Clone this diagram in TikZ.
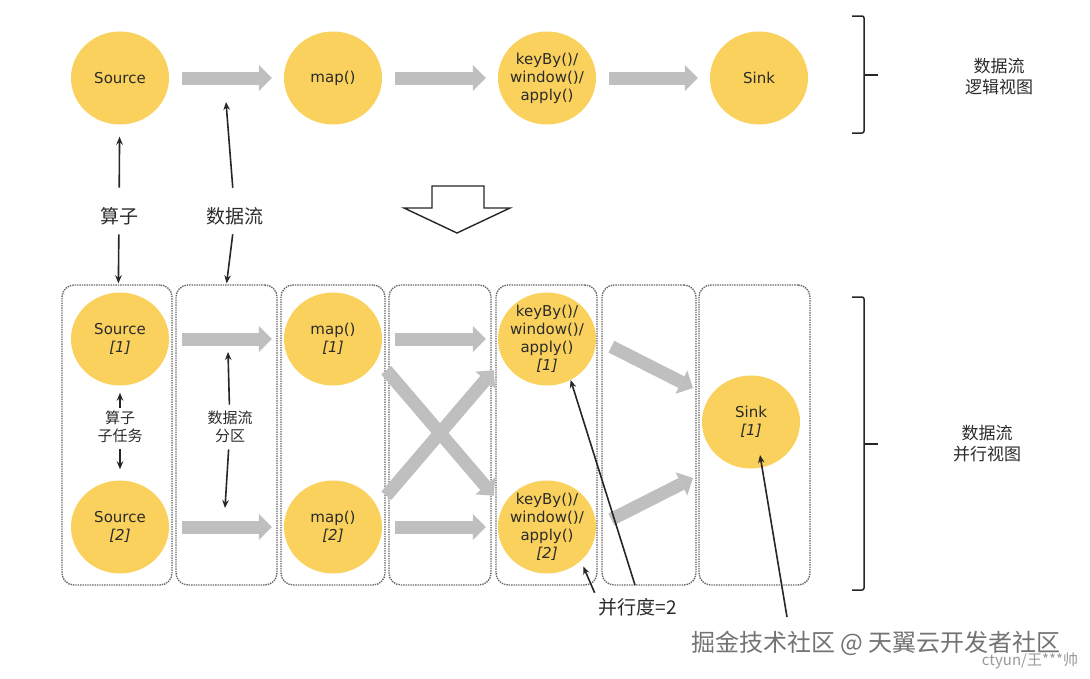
\documentclass[tikz,border=0pt]{standalone}
\usepackage{fontspec}
\setmainfont{DejaVu Sans}
\newfontfamily\cjk{Noto Sans CJK SC}
\usetikzlibrary{shapes.geometric,arrows.meta,calc}
\definecolor{ylw}{HTML}{FAD15C}
\definecolor{agray}{HTML}{BFBFBF}
\definecolor{txt}{HTML}{2B2B2B}
\definecolor{boxc}{HTML}{666666}
\begin{document}
\begin{tikzpicture}[x=1pt,y=-1pt,
  op/.style={ellipse, fill=ylw, minimum width=98pt, minimum height=93pt, inner sep=0pt},
  optext/.style={text=txt, font=\fontsize{15}{18}\selectfont, align=center, inner sep=0pt},
  fatc/.style={draw=agray, line width=13pt, -{Triangle[length=13pt,width=26pt,line width=0pt]}},
  fat/.style={fatc, shorten <=13pt, shorten >=12pt},
  thinarr/.style={draw=black!85, line width=1.6pt, -{Stealth[length=8pt,width=6.5pt]}},
  part/.style={draw=boxc, densely dotted, line width=1.4pt, rounded corners=12pt, minimum height=300pt, inner sep=0pt},
  cn/.style={text=txt, font=\cjk\fontsize{19}{22}\selectfont, align=center},
  cns/.style={text=txt, font=\cjk\fontsize{15}{18}\selectfont, align=center},
  side/.style={text=txt, font=\cjk\fontsize{17}{21}\selectfont, align=center},
  brace/.style={draw=black!85, line width=1.5pt, rounded corners=2pt},
]
\useasboundingbox (0,0) rectangle (1090,678);

% ---------- logical view ----------
\node[op] (src) at (120,78) {};
\node[op] (map) at (333,78) {};
\node[op] (key) at (547,78) {};
\node[op] (snk) at (759,78) {};
\node[optext] at (src) {Source};
\node[optext] at (map) {map()};
\node[optext] at (key) {keyBy()/\\window()/\\apply()};
\node[optext] at (snk) {Sink};
\draw[fat] (src) -- (map);
\draw[fat] (map) -- (key);
\draw[fat] (key) -- (snk);

\draw[brace] (852,16) -- (864,16) -- (864,133) -- (852,133);
\draw[draw=black!85, line width=1.5pt] (864,75) -- (878,75);
\node[side] (lv) at (999,77) {数据流\\逻辑视图};

% annotations top
\node[cn] (lop) at (119,216) {算子};
\node[cn] (lflow) at (235,216) {数据流};
\coordinate (ftip) at (226,102);

% big hollow arrow
\draw[line width=1.4pt, draw=black!85, fill=white] (432,186) -- (484,186) -- (484,208) -- (510,208) -- (457,233) -- (404,208) -- (432,208) -- cycle;

% ---------- parallel view ----------
\node[part, minimum width=110pt] (b1) at (117,435) {};
\node[part, minimum width=101pt] (b2) at (226.5,435) {};
\node[part, minimum width=104pt] (b3) at (333,435) {};
\node[part, minimum width=102pt] (b4) at (440,435) {};
\node[part, minimum width=101pt] (b5) at (546.5,435) {};
\node[part, minimum width=94pt] (b6) at (649,435) {};
\node[part, minimum width=111pt] (b7) at (754.5,435) {};

\node[op] (s1) at (120,339) {};
\node[op] (s2) at (120,527) {};
\node[op] (m1) at (333,339) {};
\node[op] (m2) at (333,527) {};
\node[op] (k1) at (547,339) {};
\node[op] (k2) at (547,527) {};
\node[op] (sk) at (751,422) {};
\node[optext] at (s1) {Source\\\textit{[1]}};
\node[optext] at (s2) {Source\\\textit{[2]}};
\node[optext] at (m1) {map()\\\textit{[1]}};
\node[optext] at (m2) {map()\\\textit{[2]}};
\node[optext] at (k1) {keyBy()/\\window()/\\apply()\\\textit{[1]}};
\node[optext] at (k2) {keyBy()/\\window()/\\apply()\\\textit{[2]}};
\node[optext] at (sk) {Sink\\\textit{[1]}};

\draw[fat] (s1) -- (m1);
\draw[fat] (s2) -- (m2);
\draw[fat] (m1) -- (k1);
\draw[fat] (m2) -- (k2);
\draw[fatc, shorten <=14pt, shorten >=14pt] (m1.-25) -- (k2.155);
\draw[fatc, shorten <=14pt, shorten >=14pt] (m2.25) -- (k1.-155);
\coordinate (sin1) at (693,388);
\coordinate (sin2) at (693,478);
\draw[fatc, shorten <=17pt] (k1.east) -- (sin1);
\draw[fatc, shorten <=17pt] (k2.east) -- (sin2);

\draw[brace] (852,297) -- (864,297) -- (864,590) -- (852,590);
\draw[draw=black!85, line width=1.5pt] (864,444) -- (878,444);
\node[side] (pv) at (987,444) {数据流\\并行视图};

% annotation arrows top
\draw[thinarr, shorten <=16pt, shorten >=12pt] (lop) -- (src);
\draw[thinarr, shorten <=6pt, shorten >=1pt] (lop) -- (b1);
\draw[thinarr, shorten <=16pt] (lflow) -- (ftip);
\draw[thinarr, shorten <=6pt, shorten >=1pt] (lflow) -- (b2.north);

% annotations bottom
\node[cns] (lsub) at (120,427) {算子\\子任务};
\node[cns] (lpart) at (230,427) {数据流\\分区};
\coordinate (pt1) at (228,352);
\coordinate (pt2) at (225,508);
\draw[thinarr, shorten >=7pt] (lsub) -- (s1);
\draw[thinarr, shorten <=3pt, shorten >=11pt] (lsub) -- (s2);
\draw[thinarr, shorten <=3pt] (lpart) -- (pt1);
\draw[thinarr, shorten <=3pt] (lpart) -- (pt2);

\node[cn] (par) at (638,607) {并行度=2};
\draw[thinarr, shorten <=2pt, shorten >=6pt] (par.north west) -- (k2.-45);
\draw[thinarr, shorten <=10pt] (par.north) -- (k1.-60);
\coordinate (sinkfoot) at (787,617);
\coordinate (sinktip) at (760,455);
\draw[thinarr] (sinkfoot) -- (sinktip);

% watermark
\node[font=\cjk\fontsize{24}{24}\selectfont, text=black!55] (wm) at (876,643) {掘金技术社区 @ 天翼云开发者社区};
\node[font=\cjk\fontsize{15}{15}\selectfont, text=black!40] (wm2) at (1030,661) {ctyun/王***帅};
\end{tikzpicture}
\end{document}
